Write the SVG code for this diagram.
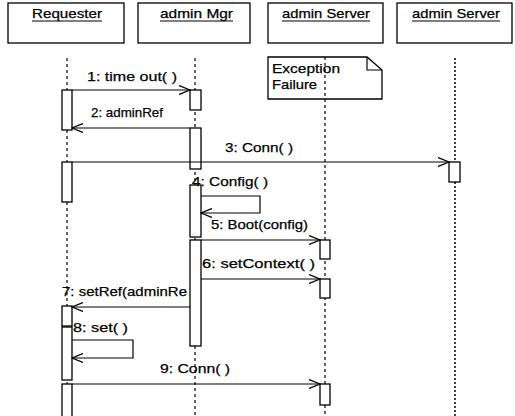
<svg xmlns="http://www.w3.org/2000/svg" width="515" height="416" viewBox="0 0 515 416">
<style>
.box{fill:#fff;stroke:#000;stroke-width:1.3}
.act{fill:#fff;stroke:#000;stroke-width:1.3}
.life{stroke:#000;stroke-width:1.2;stroke-dasharray:3,3;fill:none}
.dot{stroke:#000;stroke-width:1.5;stroke-dasharray:2,2;fill:none}
.msg{stroke:#000;stroke-width:1.2;fill:none}
.t{font-family:"Liberation Sans",Arial,sans-serif;font-size:13.5px;fill:#000;stroke:#000;stroke-width:0.25}
.ul{stroke:#000;stroke-width:1.2}
</style>
<defs>
<marker id="open" markerUnits="userSpaceOnUse" markerWidth="12" markerHeight="10" refX="11" refY="5" orient="auto">
<path d="M0,0.5 L11,5 L0,9.5" fill="none" stroke="#000" stroke-width="1.3"/>
</marker>
</defs>
<rect width="515" height="416" fill="#fff"/>

<g id="note">
<path class="box" d="M268,57 H367 L382,70 V99 H268 Z"/>
<path d="M367,57 V70 H382" fill="none" stroke="#000" stroke-width="1.2"/>
<text class="t" x="272" y="73" textLength="68" lengthAdjust="spacingAndGlyphs">Exception</text>
<text class="t" x="272" y="89" textLength="45" lengthAdjust="spacingAndGlyphs">Failure</text>
</g>

<g id="requester">
<rect class="box" x="8" y="3" width="116" height="40"/>
<text class="t" x="32" y="18" textLength="70" lengthAdjust="spacingAndGlyphs">Requester</text>
<line class="ul" x1="32" y1="21" x2="102" y2="21"/>
<line class="life" x1="67" y1="58" x2="67" y2="416"/>
<rect class="act" x="62" y="90" width="10" height="40"/>
<rect class="act" x="62" y="162" width="10" height="40"/>
<rect class="act" x="62" y="306" width="10" height="20"/>
<rect class="act" x="62" y="327" width="10" height="53"/>
<rect class="act" x="62" y="384" width="10" height="40"/>
</g>

<g id="adminMgr">
<rect class="box" x="138" y="3" width="112" height="40"/>
<text class="t" x="160" y="18" textLength="73" lengthAdjust="spacingAndGlyphs">admin Mgr</text>
<line class="ul" x1="160" y1="21" x2="233" y2="21"/>
<line class="life" x1="195" y1="58" x2="195" y2="416"/>
<rect class="act" x="190" y="90" width="11" height="20"/>
<rect class="act" x="190" y="128" width="11" height="41"/>
<rect class="act" x="190" y="185" width="11" height="52"/>
<rect class="act" x="190" y="240" width="11" height="106"/>
</g>

<g id="adminServer1">
<rect class="box" x="268" y="3" width="115" height="40"/>
<text class="t" x="282" y="18" textLength="88" lengthAdjust="spacingAndGlyphs">admin Server</text>
<line class="ul" x1="282" y1="21" x2="370" y2="21"/>
<line class="life" x1="325" y1="57" x2="325" y2="416"/>
<rect class="act" x="320" y="240" width="10" height="19"/>
<rect class="act" x="320" y="279" width="10" height="19"/>
<rect class="act" x="320" y="384" width="10" height="21"/>
</g>

<g id="adminServer2">
<rect class="box" x="397" y="3" width="115" height="40"/>
<text class="t" x="412" y="18" textLength="88" lengthAdjust="spacingAndGlyphs">admin Server</text>
<line class="ul" x1="412" y1="21" x2="500" y2="21"/>
<line class="dot" x1="455" y1="58" x2="455" y2="416"/>
<rect class="act" x="449" y="162" width="11" height="20"/>
</g>

<g id="connectors">
<line class="msg" x1="72" y1="90" x2="190" y2="90" marker-end="url(#open)"/>
<text class="t" x="87" y="81" textLength="90" lengthAdjust="spacingAndGlyphs">1: time out( )</text>
<line class="msg" x1="190" y1="128" x2="72" y2="128" marker-end="url(#open)"/>
<text class="t" x="91" y="117" textLength="72" lengthAdjust="spacingAndGlyphs">2: adminRef</text>
<line class="msg" x1="72" y1="162" x2="449" y2="162" marker-end="url(#open)"/>
<text class="t" x="225" y="152" textLength="68" lengthAdjust="spacingAndGlyphs">3: Conn( )</text>
<path class="msg" d="M201,196 H260 V213 H201" marker-end="url(#open)"/>
<text class="t" x="192" y="186" textLength="76" lengthAdjust="spacingAndGlyphs">4: Config( )</text>
<line class="msg" x1="201" y1="240" x2="320" y2="240" marker-end="url(#open)"/>
<text class="t" x="211" y="229" textLength="97" lengthAdjust="spacingAndGlyphs">5: Boot(config)</text>
<line class="msg" x1="201" y1="279" x2="320" y2="279" marker-end="url(#open)"/>
<text class="t" x="202" y="268" textLength="113" lengthAdjust="spacingAndGlyphs">6: setContext( )</text>
<line class="msg" x1="190" y1="307" x2="72" y2="307" marker-end="url(#open)"/>
<text class="t" x="62" y="296" textLength="125" lengthAdjust="spacingAndGlyphs">7: setRef(adminRe</text>
<path class="msg" d="M72,340 H133 V358 H72" marker-end="url(#open)"/>
<text class="t" x="73" y="332" textLength="55" lengthAdjust="spacingAndGlyphs">8: set( )</text>
<line class="msg" x1="72" y1="384" x2="320" y2="384" marker-end="url(#open)"/>
<text class="t" x="160" y="373" textLength="70" lengthAdjust="spacingAndGlyphs">9: Conn( )</text>
</g>
</svg>
